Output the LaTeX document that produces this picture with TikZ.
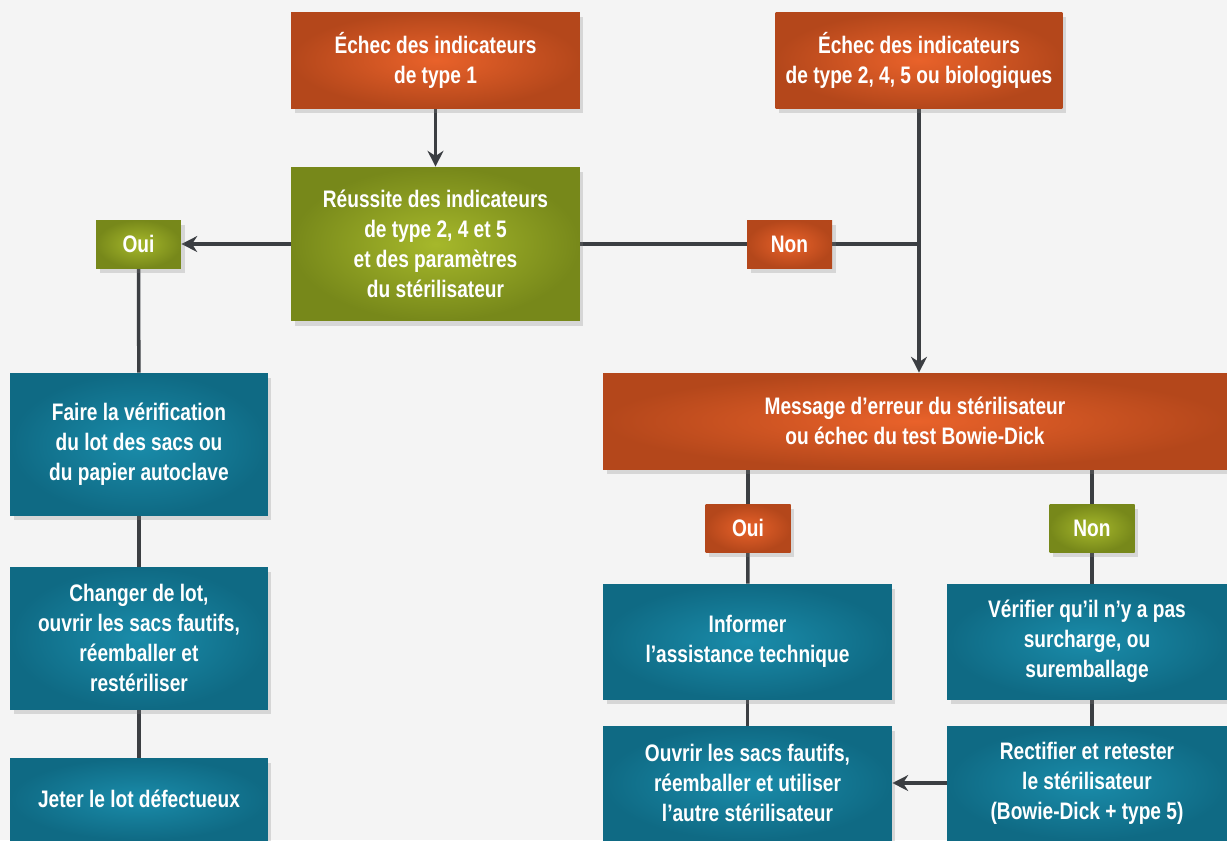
\documentclass[tikz,border=0pt]{standalone}
\usepackage{fontspec}
\setmainfont{Liberation Sans}[FakeStretch=0.80]
\usetikzlibrary{arrows.meta, positioning, shadows, backgrounds}

\definecolor{orangeIn}{HTML}{E9622A}
\definecolor{orangeOut}{HTML}{B4471B}
\definecolor{greenIn}{HTML}{A6B82B}
\definecolor{greenOut}{HTML}{77881A}
\definecolor{tealIn}{HTML}{1A8CAA}
\definecolor{tealOut}{HTML}{0F6A84}
\definecolor{lineGray}{HTML}{3B3E42}
\definecolor{pageGray}{HTML}{F4F4F4}

\begin{document}
\begin{tikzpicture}[
    x=0.02cm, y=-0.02cm,
    % Styles
    box/.style={
        rectangle, shading=radial, inner color=#1In, outer color=#1Out,
        draw=none, text=white, align=center, inner sep=0pt,
        font=\fontsize{13.6}{17}\selectfont\bfseries,
        drop shadow={shadow xshift=2pt, shadow yshift=-3pt, opacity=0.25}
    },
    box/.default=teal,
    answer/.style={
        box=#1, minimum width=1.70cm, minimum height=0.96cm
    },
    link/.style={
        line width=2pt, draw=lineGray
    },
    arrow/.style={
        link, -{Stealth[length=9pt, width=9pt]}
    }
]

\useasboundingbox (0,0) rectangle (1227,840);

% ── Top row ─────────────────────────────────────────────────────────────────
\node[box=orange, minimum width=5.78cm, minimum height=1.92cm] (failone) at (435.5,60)
    {Échec des indicateurs\\de type 1};
\node[box=orange, minimum width=5.74cm, minimum height=1.92cm] (failbio) at (919,60)
    {Échec des indicateurs\\de type 2, 4, 5 ou biologiques};

% ── Pass check ──────────────────────────────────────────────────────────────
\node[box=green, minimum width=5.78cm, minimum height=3.08cm] (pass) at (435.5,244)
    {Réussite des indicateurs\\de type 2, 4 et 5\\et des paramètres\\du stérilisateur};
\node[answer=green] (yesleft) at (138.5,244) {Oui};
\node[answer=orange] (noright) at (789.5,244) {Non};

% ── Left column ─────────────────────────────────────────────────────────────
\node[box, minimum width=5.16cm, minimum height=2.84cm] (checklot) at (139,444)
    {Faire la vérification\\du lot des sacs ou\\du papier autoclave};
\node[box, minimum width=5.16cm, minimum height=2.84cm] (changelot) at (139,638)
    {Changer de lot,\\ouvrir les sacs fautifs,\\réemballer et\\restériliser};
\node[box, minimum width=5.16cm, minimum height=1.64cm] (discard) at (139,799)
    {Jeter le lot défectueux};

% ── Right side ──────────────────────────────────────────────────────────────
\node[box=orange, minimum width=12.48cm, minimum height=1.92cm] (errmsg) at (915,421)
    {Message d’erreur du stérilisateur\\ou échec du test Bowie-Dick};
\node[answer=orange] (yesmsg) at (748,528) {Oui};
\node[answer=green] (nomsg) at (1092,528) {Non};

\node[box, minimum width=5.78cm, minimum height=2.30cm] (inform) at (747.5,641.5)
    {Informer\\l’assistance technique};
\node[box, minimum width=5.60cm, minimum height=2.30cm] (overload) at (1087,641.5)
    {Vérifier qu’il n’y a pas\\surcharge, ou\\suremballage};
\node[box, minimum width=5.78cm, minimum height=2.28cm] (reopen) at (747.5,783)
    {Ouvrir les sacs fautifs,\\réemballer et utiliser\\l’autre stérilisateur};
\node[box, minimum width=5.60cm, minimum height=2.28cm] (retest) at (1087,783)
    {Rectifier et retester\\le stérilisateur\\(Bowie-Dick + type 5)};

% ── Connectors ──────────────────────────────────────────────────────────────
\begin{pgfonlayer}{background}
    \fill[pageGray] (0,0) rectangle (1227,840);

    % Type 1 → pass check
    \draw[arrow] (failone) -- (pass);

    % Pass check → Oui / Non
    \draw[arrow] (pass.west) -- (yesleft.east);
    \draw[link] (pass.east) -- (noright.west);
    \draw[link] (noright.east) -- (failbio.south |- noright);

    % Other failures → error message
    \draw[arrow] (failbio.south) -- (errmsg.north -| failbio.south);

    % Left column
    \draw[link] (yesleft) -- (checklot);
    \draw[link] (checklot) -- (changelot);
    \draw[link] (changelot) -- (discard);

    % Error message → Oui / Non
    \draw[link] (errmsg.south -| yesmsg) -- (yesmsg);
    \draw[link] (yesmsg) -- (inform);
    \draw[link] (inform) -- (reopen);
    \draw[link] (errmsg.south -| nomsg) -- (nomsg);
    \draw[link] (nomsg) -- (overload.north -| nomsg);
    \draw[link] (overload.south -| nomsg) -- (retest.north -| nomsg);

    % Retest → reopen
    \draw[arrow] (retest.west) -- (reopen.east);
\end{pgfonlayer}

\end{tikzpicture}
\end{document}
